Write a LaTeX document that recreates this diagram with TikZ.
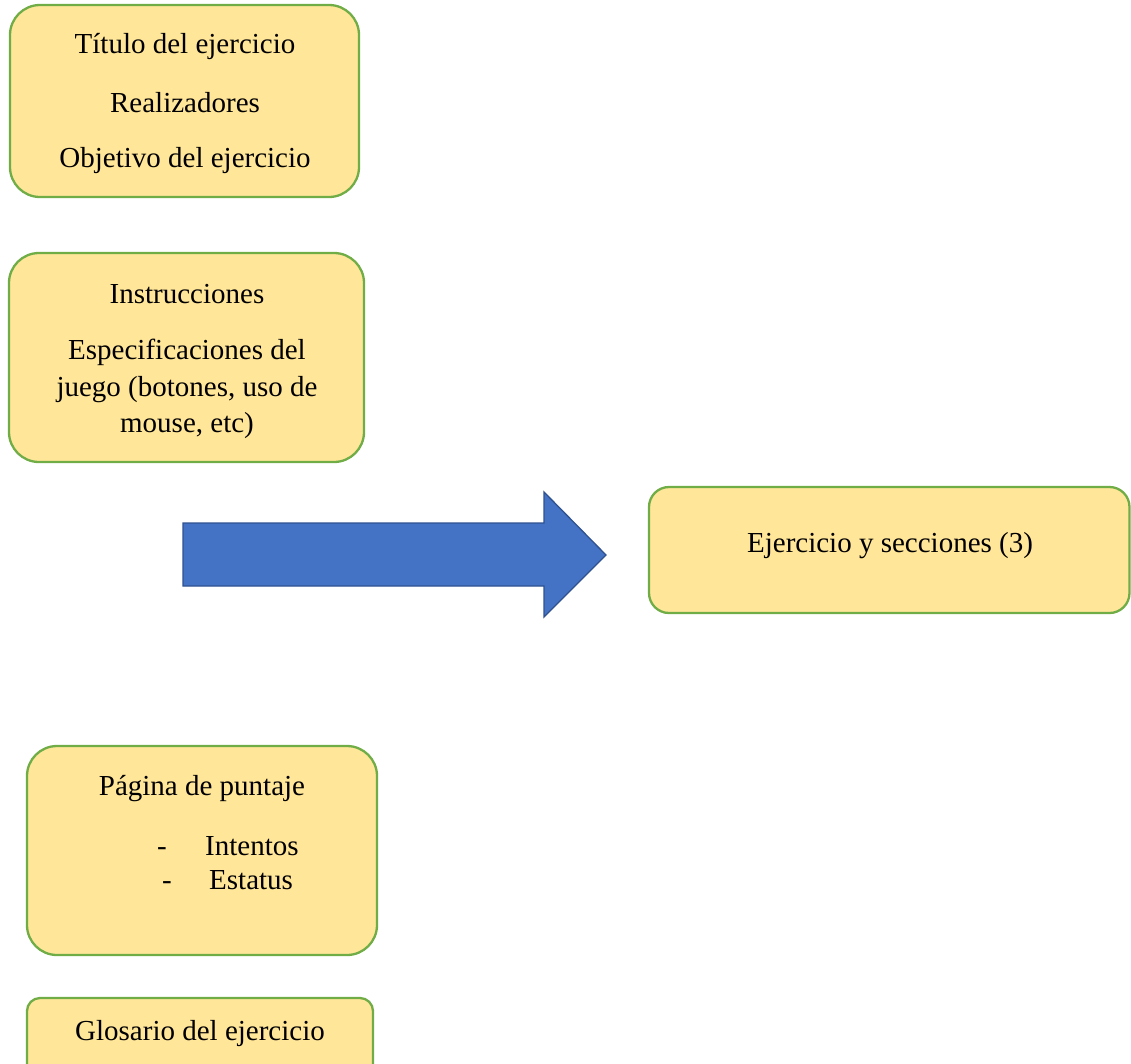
\documentclass[tikz,border=0pt]{standalone}
\usepackage{fontspec}
\setmainfont{Liberation Serif}
\definecolor{boxfill}{HTML}{FFE699}
\definecolor{boxline}{HTML}{70AD47}
\definecolor{arrowfill}{HTML}{4472C4}
\definecolor{arrowline}{HTML}{2F528F}
\tikzset{
  panel/.style={draw=boxline, fill=boxfill, line width=2.3pt},
  txt/.style={anchor=base, inner sep=0pt, font=\fontsize{29}{35}\selectfont},
  txtl/.style={anchor=base west, inner sep=0pt, font=\fontsize{29}{35}\selectfont},
}
\begin{document}
\begin{tikzpicture}[x=1pt, y=-1pt]
\useasboundingbox (0,0) rectangle (1131,1063);
\begin{scope}
\clip (0,0) rectangle (1131,1063);
% panels
\draw[panel, rounded corners=30pt] (10,5) rectangle (359,197);
\draw[panel, rounded corners=30pt] (9,253) rectangle (364,462);
\draw[panel, rounded corners=20pt] (649,487) rectangle (1129.5,613);
\draw[panel, rounded corners=30pt] (27,746) rectangle (377,955);
\draw[panel, rounded corners=13pt] (27,998) rectangle (373,1080);
% block arrow
\draw[fill=arrowfill, draw=arrowline, line width=1.3pt, line join=miter]
  (183,523) -- (544,523) -- (544,492) -- (606,555) -- (544,617)
  -- (544,586) -- (183,586) -- cycle;
\end{scope}
% texts
\node[txt] (t1) at (185,53) {Título del ejercicio};
\node[txt] (t2) at (185,112) {Realizadores};
\node[txt] (t3) at (185,167) {Objetivo del ejercicio};
\node[txt] (i1) at (187,303) {Instrucciones};
\node[txt] (i2) at (187,359) {Especificaciones del};
\node[txt] (i3) at (187,396) {juego (botones, uso de};
\node[txt] (i4) at (187,432) {mouse, etc)};
\node[txt] (e1) at (890,552) {Ejercicio y secciones (3)};
\node[txt] (p1) at (202,795) {Página de puntaje};
\node[txtl] (d1) at (157,855) {-};
\node[txtl] (p2) at (205,855) {Intentos};
\node[txtl] (d2) at (162,889) {-};
\node[txtl] (p3) at (209,889) {Estatus};
\node[txt] (g1) at (200,1040) {Glosario del ejercicio};
\end{tikzpicture}
\end{document}
